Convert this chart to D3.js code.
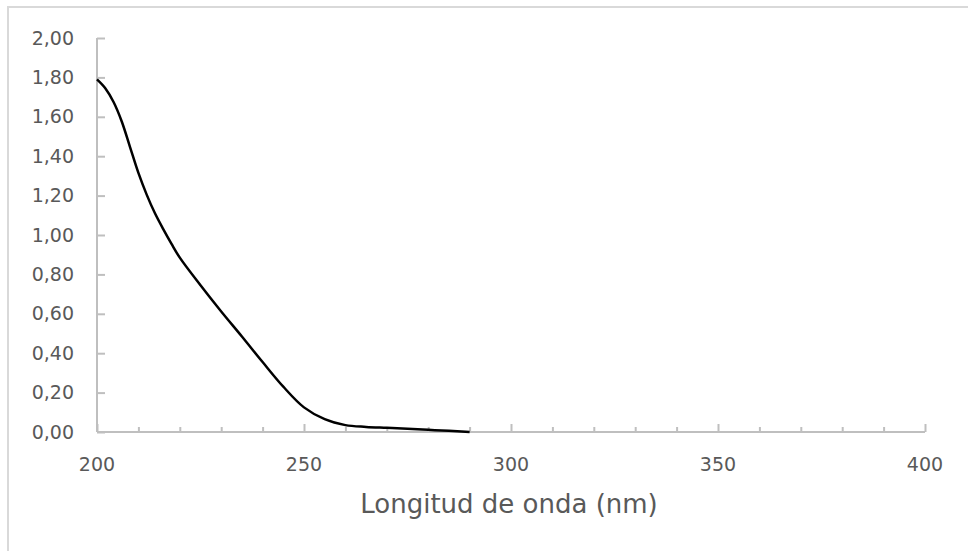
<!DOCTYPE html>
<html>
<head>
    <meta charset="utf-8">
    <title>Espectro de absorción</title>
    <script src="https://d3js.org/d3.v7.min.js"></script>
    <style>
        body { margin: 0; background: #fff; }
        text { font-family: "DejaVu Sans", sans-serif; fill: #595959; }
    </style>
</head>
<body>
    <svg id="chart"></svg>

    <script>
        // datos
        var wavelength = [200, 202, 204, 206, 208, 210, 212, 214, 216, 218, 220, 225, 230,
                          235, 240, 245, 250, 255, 260, 265, 270, 275, 280, 285, 290];
        var absorbance = [1.79, 1.745, 1.675, 1.575, 1.445, 1.315, 1.205, 1.11, 1.03, 0.955, 0.885, 0.745, 0.612,
                          0.485, 0.355, 0.23, 0.125, 0.065, 0.035, 0.026, 0.021, 0.016, 0.011, 0.006, 0.0];
        var xTicks = [200, 250, 300, 350, 400];
        var yTicks = [0, 0.2, 0.4, 0.6, 0.8, 1.0, 1.2, 1.4, 1.6, 1.8, 2.0];
        var xTitle = "Longitud de onda (nm)";

        var width = 968;
        var height = 551;

        var svg = d3.select("#chart")
            .attr("width", width)
            .attr("height", height);

        // borde del area del grafico
        svg.append("rect")
            .attr("x", 8)
            .attr("y", 7)
            .attr("width", 980)
            .attr("height", 560)
            .attr("fill", "none")
            .attr("stroke", "#d9d9d9")
            .attr("stroke-width", 2);

        var x = d3.scaleLinear().domain([200, 400]).range([97, 925]);
        var y = d3.scaleLinear().domain([0, 2]).range([432, 38]);

        var axisColor = "#bfbfbf";

        // eje y
        var yAxis = svg.append("g")
            .attr("transform", "translate(" + x(200) + ",0)")
            .call(d3.axisRight(y).tickValues(yTicks).tickSize(8).tickFormat(""));
        yAxis.selectAll("line, path").attr("stroke", axisColor).attr("stroke-width", 2);
        yAxis.select(".domain").attr("d", "M0," + y(2) + "V" + y(0));

        svg.selectAll(".ylab")
            .data(yTicks)
            .enter()
            .append("text")
            .attr("class", "ylab")
            .attr("x", 74)
            .attr("y", function(d) { return y(d); })
            .attr("dy", "0.35em")
            .attr("text-anchor", "end")
            .style("font-size", "19px")
            .text(function(d) { return d3.format(".2f")(d).replace(".", ","); });

        // eje x, marcas menores cada 10 nm
        var minor = d3.range(210, 400, 10).filter(function(v) { return v % 50 !== 0; });
        var xAxisMinor = svg.append("g")
            .attr("transform", "translate(0," + y(0) + ")")
            .call(d3.axisTop(x).tickValues(minor).tickSize(5).tickFormat(""));
        xAxisMinor.selectAll("line").attr("stroke", axisColor).attr("stroke-width", 2);
        xAxisMinor.select(".domain").remove();

        var xAxis = svg.append("g")
            .attr("transform", "translate(0," + y(0) + ")")
            .call(d3.axisTop(x).tickValues(xTicks).tickSize(8).tickFormat(""));
        xAxis.selectAll("line, path").attr("stroke", axisColor).attr("stroke-width", 2);
        xAxis.select(".domain").attr("d", "M" + x(200) + ",0H" + x(400));

        svg.selectAll(".xlab")
            .data(xTicks)
            .enter()
            .append("text")
            .attr("class", "xlab")
            .attr("x", function(d) { return x(d); })
            .attr("y", 464)
            .attr("dy", "0.35em")
            .attr("text-anchor", "middle")
            .style("font-size", "19px")
            .text(function(d) { return d; });

        svg.append("text")
            .attr("x", 509)
            .attr("y", 513)
            .attr("text-anchor", "middle")
            .style("font-size", "26px")
            .text(xTitle);

        // curva
        var points = wavelength.map(function(w, i) { return [w, absorbance[i]]; });
        var line = d3.line()
            .x(function(d) { return x(d[0]); })
            .y(function(d) { return y(d[1]); })
            .curve(d3.curveCatmullRom.alpha(0.5));

        svg.append("path")
            .datum(points)
            .attr("d", line)
            .attr("fill", "none")
            .attr("stroke", "#000")
            .attr("stroke-width", 2.5)
            .attr("stroke-linejoin", "round");
    </script>
</body>
</html>
